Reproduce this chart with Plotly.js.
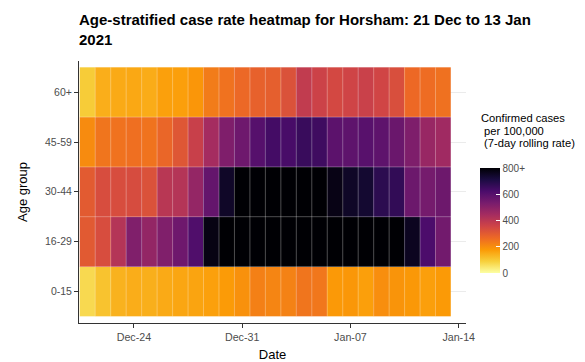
<!DOCTYPE html>
<html><head><meta charset="utf-8">
<script src="https://cdn.plot.ly/plotly-3.0.1.min.js"></script>
<style>html,body{margin:0;padding:0;background:#fff}#chart{width:585px;height:362px}</style>
</head><body><div id="chart"></div>
<script>
const dates = ['2020-12-21','2020-12-22','2020-12-23','2020-12-24','2020-12-25','2020-12-26','2020-12-27','2020-12-28',
  '2020-12-29','2020-12-30','2020-12-31','2021-01-01','2021-01-02','2021-01-03','2021-01-04','2021-01-05',
  '2021-01-06','2021-01-07','2021-01-08','2021-01-09','2021-01-10','2021-01-11','2021-01-12','2021-01-13'];
const ageGroups = ['0-15','16-29','30-44','45-59','60+'];
const rate0_15  = [72,110,138,146,143,152,158,162,168,176,195,225,215,222,245,242,180,183,170,200,188,182,170,178];
const rate16_29 = [302,333,412,518,480,518,553,612,778,880,950,1000,1050,1020,980,990,960,940,920,900,860,760,620,545];
const rate30_44 = [300,333,333,336,322,405,412,478,572,748,860,900,920,890,870,840,775,750,735,680,668,558,540,556];
const rate45_59 = [205,245,250,255,248,275,310,370,445,520,553,600,635,628,655,645,588,585,597,585,560,522,470,455];
const rate60p   = [95,145,152,155,148,168,170,185,232,250,270,285,290,322,385,362,345,355,368,352,330,268,262,252];
const cbTicks = [0,200,400,600,800];
const cbLabels = ['0','200','400','600','800+'];

const infernoRev = [[0,'#FCFFA4'],[1/9,'#F7D03C'],[2/9,'#FB9A06'],[3/9,'#ED6925'],[4/9,'#CF4446'],
  [5/9,'#A52C60'],[6/9,'#781C6D'],[7/9,'#4B0C6B'],[8/9,'#1B0C42'],[1,'#000004']];

const trace = {
  type:'heatmap', x:dates, y:ageGroups,
  z:[rate0_15, rate16_29, rate30_44, rate45_59, rate60p],
  zmin:0, zmax:800, colorscale:infernoRev,
  colorbar:{thickness:20, len:105, lenmode:'pixels', x:(480-79)/387, xanchor:'left', xpad:0,
    y:(323-220.5)/262, yanchor:'middle', ypad:0, outlinewidth:0,
    tickvals:cbTicks, ticktext:cbLabels, ticks:'inside', ticklen:4, tickcolor:'white',
    tickfont:{size:10, color:'#4D4D4D'}},
  hoverinfo:'skip'
};

// faint cell borders derived from the data positions
const DAY = 86400000;
const t0 = new Date(dates[0]+'T00:00:00Z').getTime() - DAY/2;
const t1 = new Date(dates[dates.length-1]+'T00:00:00Z').getTime() + DAY/2;
const shapes = [];
const lineStyle = {color:'rgba(255,255,255,0.3)', width:1};
for (let i=0;i<dates.length-1;i++){
  const xm = new Date(dates[i]+'T00:00:00Z').getTime() + DAY/2;
  shapes.push({type:'line', xref:'x', yref:'y', x0:xm, x1:xm, y0:-0.5, y1:ageGroups.length-0.5, line:lineStyle, layer:'above'});
}
for (let j=0;j<ageGroups.length-1;j++){
  shapes.push({type:'line', xref:'x', yref:'y', x0:t0, x1:t1, y0:j+0.5, y1:j+0.5, line:lineStyle, layer:'above'});
}

const cbTitle = ['Confirmed cases',' per 100,000',' (7-day rolling rate)'];
const cbTitleY = [118.5, 130.5, 142.5];
const annotations = cbTitle.map((t,i)=>({text:t.replace(/^ /,'&nbsp;'), xref:'paper', yref:'paper',
  x:(479-79)/387, y:(323-cbTitleY[i])/262, xanchor:'left', yanchor:'middle', showarrow:false,
  font:{size:11.2, color:'#000'}}));

const layout = {
  width:585, height:362,
  margin:{l:79, r:119, t:61, b:39},
  paper_bgcolor:'white', plot_bgcolor:'white',
  font:{family:'"Liberation Sans", Arial, sans-serif', color:'#4D4D4D'},
  title:{text:'Age-stratified case rate heatmap for Horsham: 21 Dec to 13 Jan<br>2021',
    font:{size:15, color:'#000', weight:'bold'}, x:0, xref:'paper', xanchor:'left',
    y:1-25/362, yref:'container', yanchor:'top'},
  xaxis:{type:'date', range:[t0-0.05*DAY, t1+0.97*DAY], tick0:'2020-12-24', dtick:7*DAY, tickformat:'%b-%d',
    ticks:'outside', ticklen:4, tickcolor:'#333', showline:true, linecolor:'#333', linewidth:1,
    showgrid:false, zeroline:false, tickfont:{size:10.7, color:'#4D4D4D'},
    title:{text:'Date', font:{size:13, color:'#000'}, standoff:8}},
  yaxis:{type:'category', categoryarray:ageGroups, range:[-0.635,4.627],
    ticks:'outside', ticklen:4, tickcolor:'#333', showline:true, linecolor:'#333', linewidth:1,
    showgrid:true, gridcolor:'#EBEBEB', zeroline:false, tickfont:{size:10.5, color:'#4D4D4D'},
    title:{text:'Age group', font:{size:13, color:'#000'}, standoff:14}},
  shapes:shapes, annotations:annotations
};
Plotly.newPlot('chart',[trace],layout,{displayModeBar:false, staticPlot:true});
</script></body></html>
